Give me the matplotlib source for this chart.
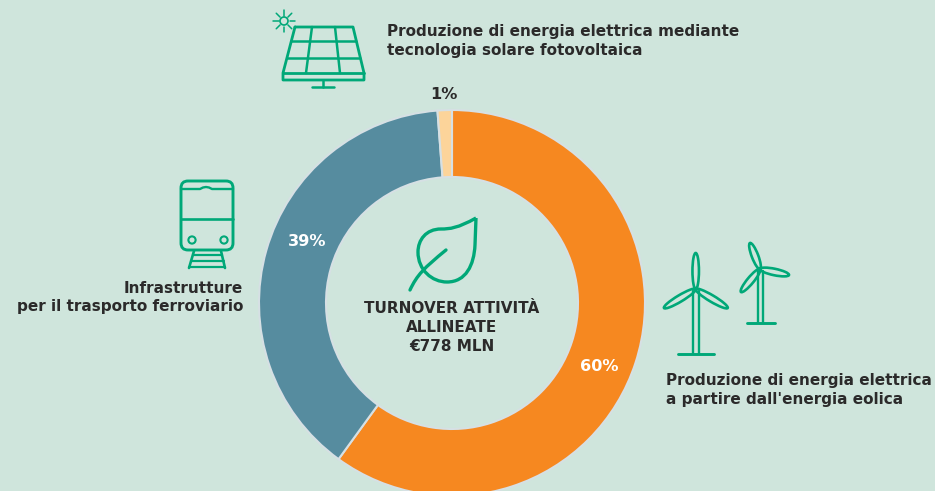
import matplotlib
matplotlib.use('Agg')
import matplotlib.pyplot as plt
from matplotlib.patches import Ellipse, FancyBboxPatch, Circle, PathPatch
from matplotlib.path import Path
import numpy as np

SHARES = [60, 38.8, 1.2]
SHARE_LABELS = ['60%', '39%', '1%']
SHARE_COLORS = ['#f68820', '#568c9f', '#fcd49a']
BG = '#cfe5dc'
GREEN = '#00a878'
DARK = '#2b2a2a'
H = 491

plt.rcParams['font.family'] = ['DejaVu Sans']

fig = plt.figure(figsize=(9.35, 4.91), dpi=100, facecolor=BG)
ax = fig.add_axes([0, 0, 1, 1])
ax.pie(SHARES, colors=SHARE_COLORS, startangle=90, counterclock=False,
       center=(452, H - 303), radius=193,
       wedgeprops=dict(width=67, edgecolor='#d6e0e4', linewidth=1.5))
ax.set_xlim(0, 935)
ax.set_ylim(0, H)
ax.set_aspect('equal')
ax.axis('off')


def y(v):
    return H - v


def line(xs, ys, lw=2.0):
    ax.plot(xs, [y(v) for v in ys], color=GREEN, lw=lw, solid_capstyle='round',
            solid_joinstyle='round')


def label(x, yy, s, color=DARK, ha='left', size=11):
    ax.text(x, y(yy), s, color=color, ha=ha, va='baseline', fontsize=size, fontweight='bold')


# solar panel
line([295, 353, 364, 364, 283, 283, 295], [27, 27, 73, 80, 80, 73, 27])
line([283, 364], [73, 73])
line([291, 356], [41, 41], 1.8)
line([287, 360], [58, 58], 1.8)
line([312, 306], [27, 73], 1.8)
line([335, 340], [27, 73], 1.8)
line([323, 323], [80, 87], 1.8)
line([312, 334], [87, 87], 1.8)
ax.add_patch(Circle((284, y(21)), 4, fill=False, ec=GREEN, lw=1.2))
for a in np.arange(0, 360, 45):
    c, s = np.cos(np.radians(a)), np.sin(np.radians(a))
    line([284 + 5.5 * c, 284 + 11 * c], [21 + 5.5 * s, 21 + 11 * s], 1.1)


# wind turbines
def turbine(hub, tips, tower, bottom, foot):
    for tip in tips:
        dx, dy = tip[0] - hub[0], y(tip[1]) - y(hub[1])
        ax.add_patch(Ellipse(((hub[0] + tip[0]) / 2, (y(hub[1]) + y(tip[1])) / 2),
                             np.hypot(dx, dy), 6.5, angle=np.degrees(np.arctan2(dy, dx)),
                             fill=False, ec=GREEN, lw=1.9))
    line([tower[0], tower[0]], [hub[1] + 2, bottom], 1.7)
    line([tower[1], tower[1]], [hub[1] + 2, bottom], 1.7)
    line(foot, [bottom, bottom], 2.1)


turbine((695.7, 289), [(695.7, 253), (664, 308), (727.7, 308)], (692.5, 699), 354, (678, 714))
turbine((760, 269), [(750, 243), (789, 275), (741, 292)], (758, 763), 323, (747, 775))

# train
ax.add_patch(FancyBboxPatch((188, y(243)), 38, 55, boxstyle='round,pad=7',
                            fill=False, ec=GREEN, lw=2.1))
line([181, 200, 203, 206, 209, 212, 233], [189, 189, 187.5, 187, 187.5, 189, 189], 1.7)
line([181, 233], [219, 219], 1.9)
for wx in (192, 224):
    ax.add_patch(Circle((wx, y(240)), 3.6, fill=False, ec=GREEN, lw=1.5))
line([194, 189], [251, 268], 1.9)
line([221, 225], [251, 268], 1.9)
line([193, 222], [255, 255], 1.6)
line([191, 224], [261, 261], 1.6)
line([189, 225], [267, 267], 1.6)

# leaf
leaf = [(476, 218), (458, 228), (450, 229), (441, 229), (426, 229), (418, 240), (418, 252),
        (418, 270), (432, 282), (447, 282), (466, 282), (474, 265), (475, 245), (476, 218)]
codes = [Path.MOVETO] + [Path.CURVE4] * 12 + [Path.LINETO]
ax.add_patch(PathPatch(Path([(a, y(b)) for a, b in leaf], codes), fill=False, ec=GREEN, lw=2.4,
                       joinstyle='round'))
stem = [(410, 290), (417, 275), (424, 268), (446, 250)]
ax.add_patch(PathPatch(Path([(a, y(b)) for a, b in stem],
                            [Path.MOVETO, Path.CURVE4, Path.CURVE4, Path.CURVE4]),
                       fill=False, ec=GREEN, lw=2.4, capstyle='round'))

# text
label(387, 36, 'Produzione di energia elettrica mediante')
label(387, 55, 'tecnologia solare fotovoltaica')
label(243, 293, 'Infrastrutture', ha='right')
label(243, 311, 'per il trasporto ferroviario', ha='right')
label(666, 385, 'Produzione di energia elettrica')
label(666, 404, "a partire dall'energia eolica")
label(452, 313, 'TURNOVER ATTIVITÀ', ha='center')
label(452, 332, 'ALLINEATE', ha='center')
label(452, 351, '€778 MLN', ha='center')
label(444, 99, SHARE_LABELS[2], ha='center', size=11.6)
label(599, 371, SHARE_LABELS[0], color='white', ha='center', size=11.6)
label(307, 246, SHARE_LABELS[1], color='white', ha='center', size=11.6)

fig.savefig('out.png', dpi=100, facecolor=BG)
